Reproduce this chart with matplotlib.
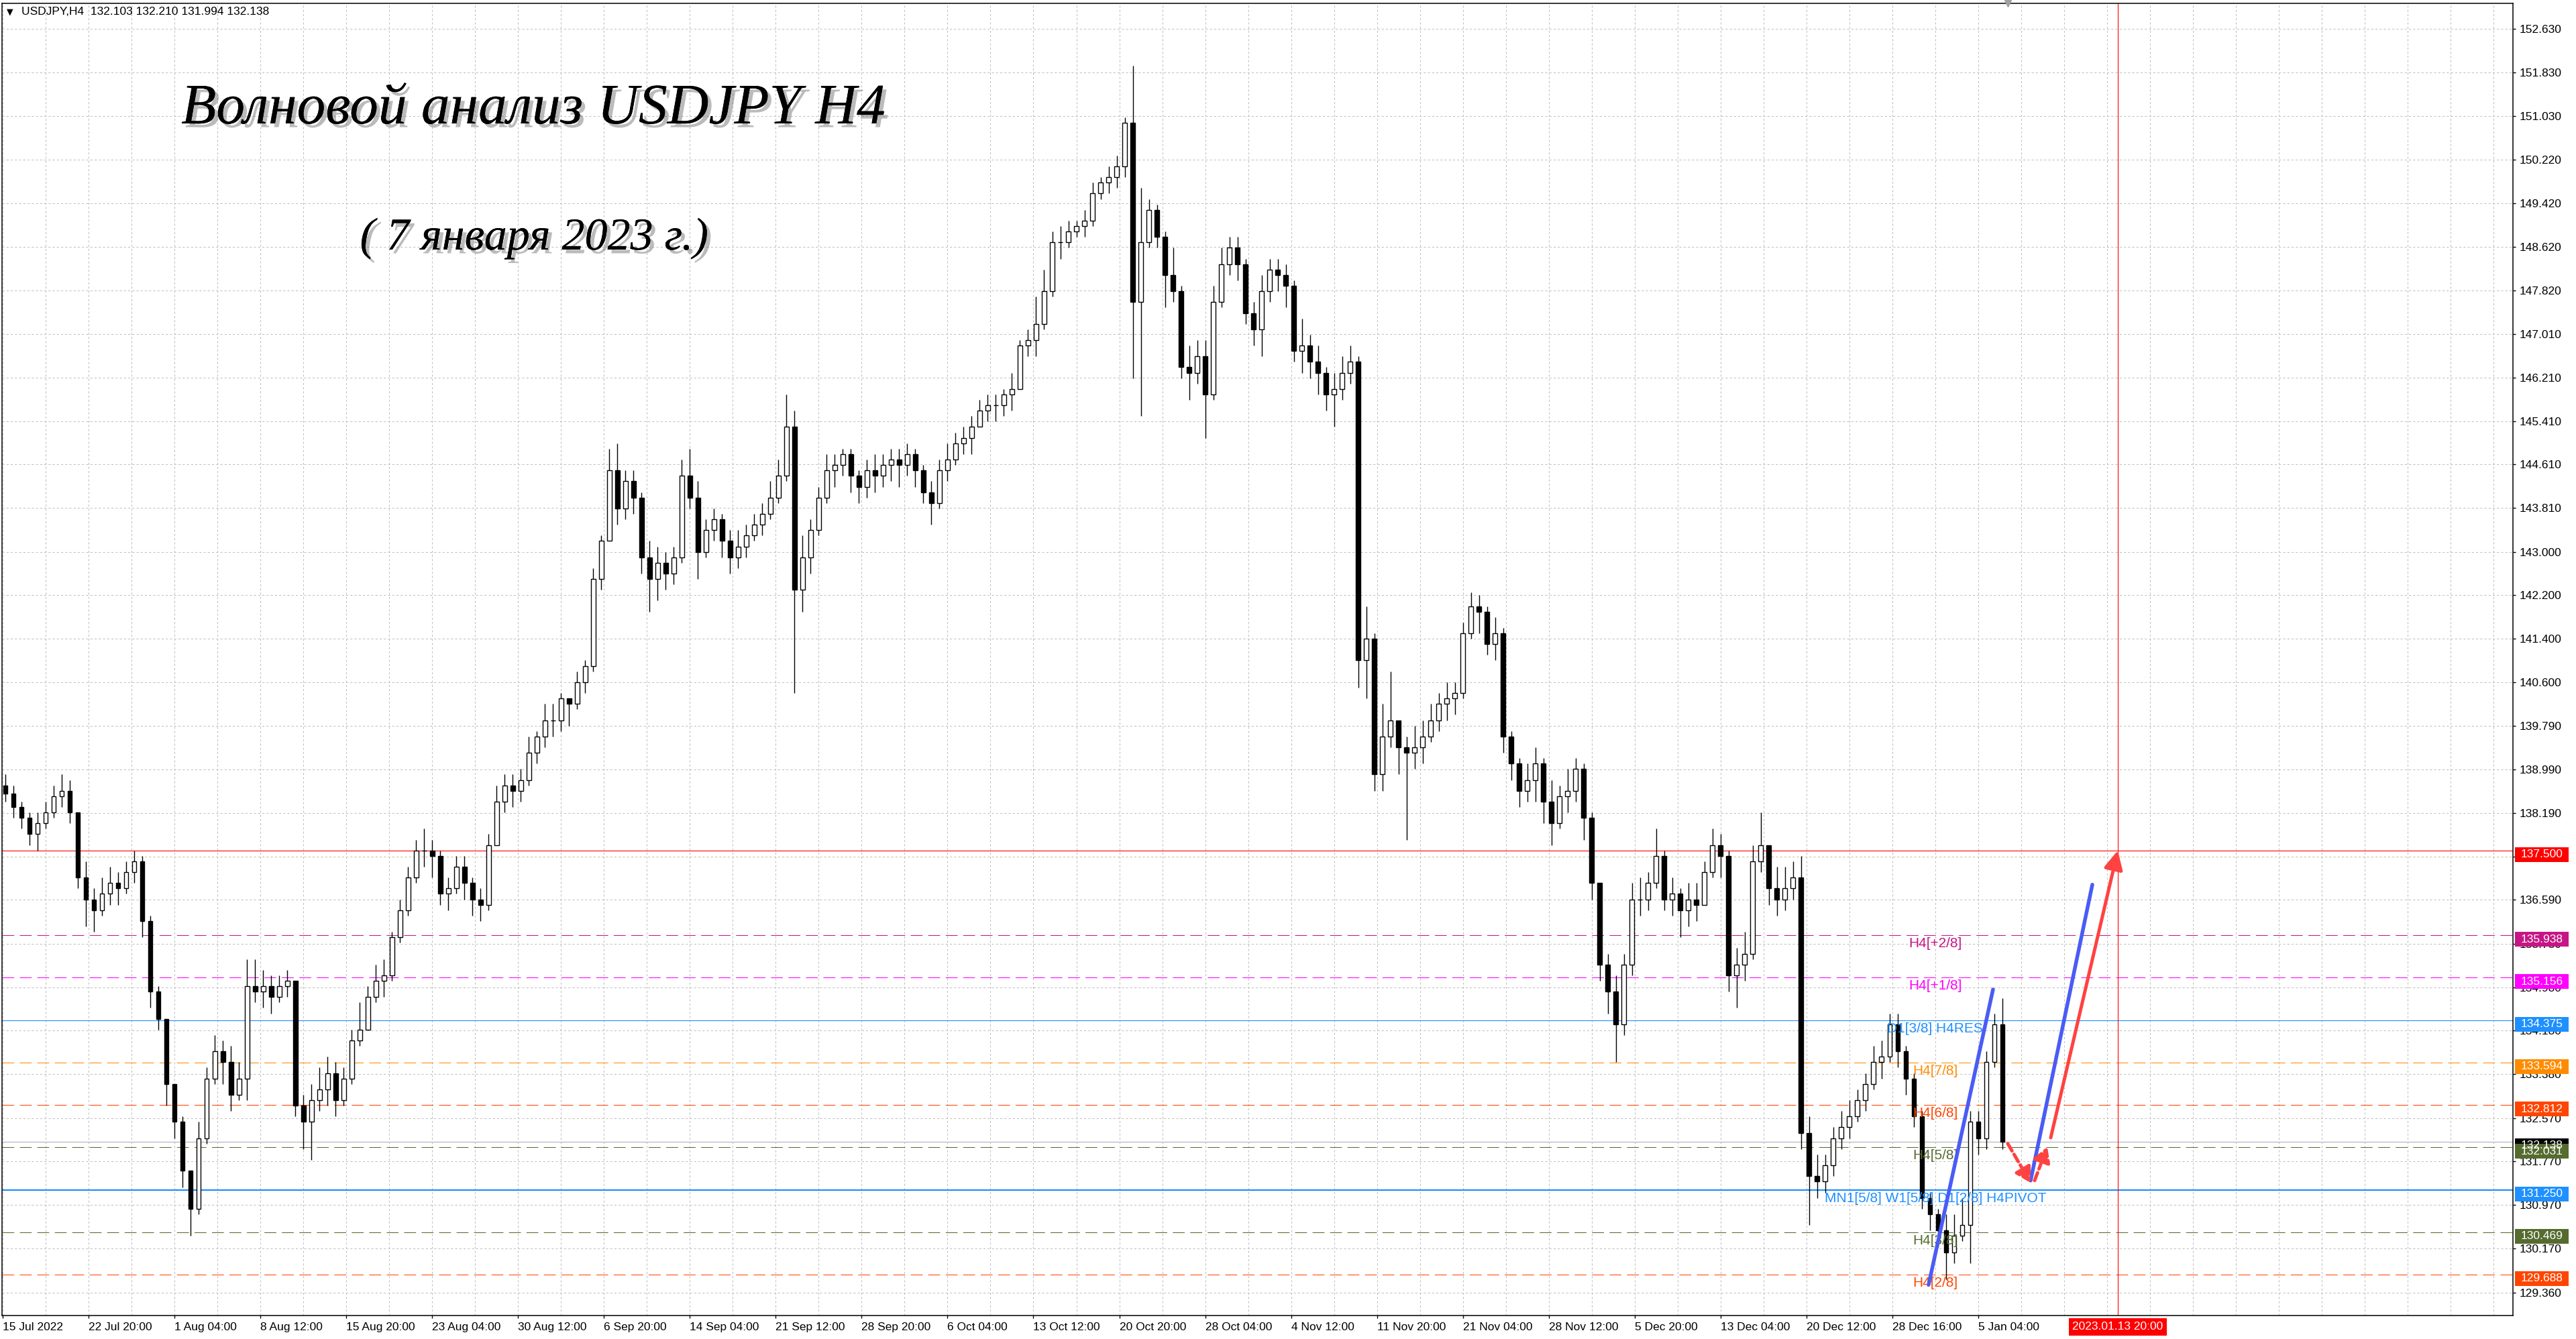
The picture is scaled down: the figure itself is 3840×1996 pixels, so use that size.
import matplotlib
matplotlib.use('Agg')
import matplotlib.pyplot as plt
import matplotlib.patheffects as pe
import matplotlib.transforms as mtransforms
from matplotlib.patches import Rectangle
import numpy as np

# USDJPY H4 chart, drawn as 12-hour candles (3 H4 bars per candle)
first_open = 138.70
close = [138.55, 138.3, 138.1, 137.8, 138.0, 138.2, 138.5, 138.6, 138.2, 137.0,
         136.6, 136.4, 136.7, 136.9, 136.8, 137.1, 137.3, 136.2, 134.9, 134.4,
         133.2, 132.5, 131.6, 130.9, 132.2, 133.3, 133.8, 133.6, 133.0, 133.3,
         135.0, 134.9, 135.0, 134.8, 135.0, 135.1, 132.8, 132.5, 132.9, 133.1,
         133.4, 132.9, 133.3, 134.0, 134.2, 134.8, 135.1, 135.2, 135.9, 136.4,
         137.0, 137.5, 137.5, 137.4, 136.7, 136.8, 137.2, 136.9, 136.6, 136.5,
         137.6, 138.4, 138.7, 138.6, 138.8, 139.3, 139.6, 139.9, 139.9, 140.3,
         140.2, 140.6, 140.9, 142.5, 143.2, 144.5, 143.8, 144.3, 144.0, 142.9,
         142.5, 142.8, 142.6, 142.9, 144.4, 144.0, 143.0, 143.4, 143.6, 143.2,
         142.9, 143.1, 143.3, 143.5, 143.7, 144.0, 144.4, 145.3, 142.3, 142.9,
         143.4, 144.0, 144.5, 144.6, 144.8, 144.4, 144.2, 144.5, 144.4, 144.6,
         144.7, 144.6, 144.8, 144.5, 144.1, 143.9, 144.5, 144.7, 145.0, 145.1,
         145.3, 145.6, 145.7, 145.7, 145.9, 146.0, 146.8, 146.9, 147.2, 147.8,
         148.7, 148.7, 148.9, 149.0, 149.1, 149.6, 149.8, 149.9, 150.1, 150.9,
         147.6, 148.7, 149.3, 148.8, 148.1, 147.8, 146.4, 146.3, 146.6, 145.9,
         147.6, 148.3, 148.6, 148.3, 147.4, 147.1, 147.8, 148.2, 148.1, 147.9,
         146.7, 146.8, 146.5, 146.3, 145.9, 146.0, 146.3, 146.5, 141.0, 141.4,
         138.9, 139.6, 139.9, 139.4, 139.3, 139.4, 139.6, 139.9, 140.2, 140.3,
         140.4, 141.5, 142.0, 141.9, 141.3, 141.5, 139.6, 139.1, 138.6, 138.8,
         139.1, 138.4, 138.0, 138.5, 138.6, 139.0, 138.1, 136.9, 135.4, 134.9,
         134.3, 135.4, 136.6, 136.6, 136.9, 137.4, 136.6, 136.7, 136.4, 136.6,
         136.5, 137.1, 137.6, 137.4, 135.2, 135.4, 135.6, 137.3, 137.6, 136.8,
         136.6, 136.8, 137.0, 132.3, 131.5, 131.4, 131.7, 132.2, 132.4, 132.6,
         132.9, 133.2, 133.6, 133.7, 134.3, 133.8, 133.3, 132.6, 131.1, 130.8,
         130.5, 130.1, 130.4, 130.6, 132.5, 132.2, 133.6, 134.3, 132.14]
high = [138.9, 138.7, 138.4, 138.2, 138.2, 138.4, 138.7, 138.9, 138.8, 138.2,
        137.3, 136.8, 137.0, 137.2, 137.1, 137.3, 137.5, 137.4, 136.3, 135.0,
        134.4, 133.2, 132.6, 131.6, 132.5, 133.5, 134.1, 134.0, 133.9, 133.6,
        135.5, 135.5, 135.3, 135.2, 135.2, 135.3, 135.1, 133.0, 133.2, 133.5,
        133.7, 133.6, 133.5, 134.2, 134.7, 135.0, 135.4, 135.5, 136.0, 136.6,
        137.2, 137.7, 137.9, 137.7, 137.5, 137.0, 137.4, 137.4, 137.0, 136.8,
        137.8, 138.7, 138.9, 138.9, 139.0, 139.6, 139.7, 140.2, 140.2, 140.4,
        140.3, 140.8, 141.0, 142.7, 143.3, 144.9, 145.0, 144.5, 144.5, 144.1,
        143.2, 143.1, 143.0, 143.1, 144.7, 144.9, 144.3, 143.6, 143.8, 143.7,
        143.4, 143.4, 143.5, 143.7, 143.9, 144.3, 144.7, 145.9, 145.6, 143.3,
        143.6, 144.2, 144.8, 144.8, 144.9, 144.9, 144.5, 144.7, 144.8, 144.8,
        144.9, 144.9, 145.0, 144.9, 144.6, 144.3, 144.7, 145.0, 145.2, 145.3,
        145.5, 145.8, 145.9, 145.9, 146.0, 146.3, 146.9, 147.1, 147.7, 148.2,
        148.9, 149.0, 149.1, 149.1, 149.3, 149.8, 149.9, 150.1, 150.3, 151.0,
        151.95, 149.7, 149.5, 149.4, 148.9, 148.6, 147.9, 146.8, 146.9, 146.9,
        147.9, 148.6, 148.8, 148.8, 148.4, 147.6, 148.1, 148.4, 148.4, 148.3,
        148.0, 147.3, 147.0, 146.8, 146.4, 146.3, 146.6, 146.8, 146.6, 142.0,
        141.5, 140.2, 140.8, 139.9, 139.6, 139.8, 139.9, 140.2, 140.4, 140.6,
        140.6, 141.7, 142.25, 142.2, 142.0, 141.8, 141.6, 139.7, 139.2, 139.1,
        139.4, 139.2, 138.8, 138.7, 139.0, 139.2, 139.1, 138.2, 136.9, 135.6,
        135.2, 135.6, 136.9, 137.0, 137.1, 137.9, 137.5, 137.0, 136.8, 136.9,
        136.9, 137.3, 137.9, 137.8, 137.5, 135.7, 136.0, 137.6, 138.2, 137.6,
        137.2, 137.2, 137.3, 137.4, 132.6, 131.9, 131.9, 132.4, 132.7, 132.9,
        133.1, 133.4, 133.9, 134.0, 134.5, 134.5, 133.9, 133.4, 132.7, 131.2,
        130.9, 130.8, 130.8, 131.1, 132.7, 132.7, 133.8, 134.5, 134.78]
low = [138.4, 138.1, 137.9, 137.6, 137.5, 137.9, 138.1, 138.3, 138.0, 136.8,
       136.1, 136.0, 136.3, 136.5, 136.5, 136.7, 136.9, 135.9, 134.6, 134.2,
       132.8, 132.2, 131.3, 130.4, 130.8, 132.1, 133.2, 133.2, 132.7, 132.9,
       132.9, 134.7, 134.6, 134.5, 134.7, 134.8, 132.6, 132.0, 131.8, 132.7,
       132.8, 132.6, 132.8, 133.2, 133.9, 134.2, 134.7, 134.8, 135.1, 135.8,
       136.3, 136.9, 137.2, 137.0, 136.5, 136.4, 136.7, 136.6, 136.3, 136.2,
       136.4, 137.9, 138.2, 138.3, 138.4, 138.7, 139.1, 139.4, 139.6, 139.7,
       139.8, 140.1, 140.4, 140.8, 142.3, 143.2, 143.5, 143.6, 143.7, 142.6,
       141.9, 142.1, 142.3, 142.4, 142.8, 143.8, 142.5, 142.9, 143.2, 142.9,
       142.6, 142.7, 142.9, 143.2, 143.3, 143.6, 143.9, 144.3, 140.4, 141.9,
       142.6, 143.3, 143.9, 144.2, 144.4, 144.1, 143.9, 144.0, 144.1, 144.2,
       144.3, 144.2, 144.4, 144.2, 143.9, 143.5, 143.8, 144.3, 144.6, 144.8,
       144.8, 145.3, 145.4, 145.4, 145.5, 145.6, 146.0, 146.6, 146.6, 147.1,
       147.7, 148.4, 148.6, 148.8, 148.8, 149.0, 149.5, 149.6, 149.7, 149.9,
       146.2, 145.5, 148.6, 148.6, 147.5, 147.6, 146.2, 145.8, 146.1, 145.1,
       145.8, 147.5, 148.1, 148.0, 147.2, 146.8, 146.6, 147.6, 147.8, 147.5,
       146.5, 146.3, 146.2, 145.9, 145.6, 145.3, 145.8, 146.1, 140.5, 140.3,
       138.6, 138.6, 139.4, 138.9, 137.7, 139.0, 139.1, 139.5, 139.7, 139.9,
       140.0, 140.3, 141.4, 141.5, 141.1, 141.0, 139.3, 138.8, 138.3, 138.4,
       138.4, 138.0, 137.6, 137.9, 138.2, 138.4, 137.7, 136.6, 135.1, 134.5,
       133.6, 134.1, 135.2, 136.3, 136.4, 136.8, 136.4, 136.3, 135.9, 136.1,
       136.2, 136.5, 137.0, 137.0, 134.9, 134.6, 135.1, 135.5, 137.1, 136.5,
       136.3, 136.4, 136.6, 132.0, 130.6, 131.1, 131.2, 131.5, 132.0, 132.2,
       132.5, 132.7, 133.1, 133.3, 133.6, 133.5, 133.0, 132.4, 130.9, 130.5,
       130.2, 129.6, 129.9, 130.3, 129.9, 131.9, 132.0, 133.5, 132.0]
bars_per_candle = 3

# x axis: H4 bar index, a date label every 32 bars
date_labels = ['15 Jul 2022', '22 Jul 20:00', '1 Aug 04:00', '8 Aug 12:00', '15 Aug 20:00',
               '23 Aug 04:00', '30 Aug 12:00', '6 Sep 20:00', '14 Sep 04:00', '21 Sep 12:00',
               '28 Sep 20:00', '6 Oct 04:00', '13 Oct 12:00', '20 Oct 20:00', '28 Oct 04:00',
               '4 Nov 12:00', '11 Nov 20:00', '21 Nov 04:00', '28 Nov 12:00', '5 Dec 20:00',
               '13 Dec 04:00', '20 Dec 12:00', '28 Dec 16:00', '5 Jan 04:00']
label_step = 32
grid_step = 16
target_bar = 788
target_label = '2023.01.13 20:00'

price_ticks = [152.630, 151.830, 151.030, 150.220, 149.420, 148.620, 147.820, 147.010,
               146.210, 145.410, 144.610, 143.810, 143.000, 142.200, 141.400, 140.600,
               139.790, 138.990, 138.190, 137.390, 136.590, 135.780, 134.980, 134.180,
               133.380, 132.570, 131.770, 130.970, 130.170, 129.360]

# Murrey-style levels, bid line and target
level_prices = [137.500, 135.938, 135.156, 134.375, 133.594, 132.812, 132.138, 132.031,
                131.250, 130.469, 129.688]
level_names = ['', 'H4[+2/8]', 'H4[+1/8]', 'D1[3/8] H4RES', 'H4[7/8]', 'H4[6/8]', '',
               'H4[5/8]', 'MN1[5/8] W1[5/8] D1[2/8] H4PIVOT', 'H4[3/8]', 'H4[2/8]']
level_colors = ['#FF0000', '#C71585', '#FF00FF', '#1E90FF', '#FF8C00', '#FF4500', '#000000',
                '#556B2F', '#1E90FF', '#556B2F', '#FF4500']
level_line_colors = ['#FF0000', '#C71585', '#FF00FF', '#1E90FF', '#FF8C00', '#FF4500', '#B4B4B4',
                     '#556B2F', '#1E90FF', '#556B2F', '#FF4500']
level_dashed = [False, True, True, False, True, True, False, True, False, True, True]
level_label_bar = 720

# hand-drawn forecast (bar index, price)
wave1 = [(717.5, 129.50), (741.5, 134.94)]
wave2 = [(755.5, 131.42), (778.5, 136.87)]
arrow_down = [(747.0, 132.10), (755.5, 131.38)]
arrow_up = [(757.0, 131.42), (761.7, 132.04)]
arrow_target = [(763.0, 132.21), (788.0, 137.50)]

header = 'USDJPY,H4  132.103 132.210 131.994 132.138'
title = 'Волновой анализ USDJPY H4'
subtitle = '( 7 января 2023 г.)'

W, H, DPI = 3840, 1996, 100
SANS = ['Liberation Sans', 'DejaVu Sans']
SERIF = ['Liberation Serif', 'DejaVu Serif']
BLUE = '#4A5CF5'
RED = '#FF4242'

fig = plt.figure(figsize=(W / DPI, H / DPI), dpi=DPI)
ax_l, ax_r, ax_t, ax_b = 3, 3746, 5, 1961
ax = fig.add_axes([ax_l / W, (H - ax_b) / H, (ax_r - ax_l) / W, (ax_b - ax_t) / H])
ax.set_xlim(-0.25, 935.2)
ax.set_ylim(128.934, 153.103)
ax.set_axisbelow(True)
px_per_price = (ax_b - ax_t) / (153.103 - 128.934)
px_per_axfrac = ax_r - ax_l

# grid
ax.set_xticks(np.arange(len(date_labels)) * label_step)
ax.set_xticklabels(date_labels)
ax.set_xticks(np.arange(0, 936, grid_step), minor=True)
ax.yaxis.tick_right()
ax.set_yticks(price_ticks)
ax.set_yticklabels([f'{p:.3f}' for p in price_ticks])
grid_kw = dict(color='#C0C0C0', lw=0.75, linestyle=(0, (3, 3)))
ax.grid(True, which='both', axis='x', **grid_kw)
ax.grid(True, which='major', axis='y', **grid_kw)
ax.tick_params(axis='both', which='major', length=3, width=1, color='black',
               labelsize=12.5, labelcolor='black')
ax.tick_params(axis='y', pad=4)
ax.tick_params(axis='x', pad=4)
ax.tick_params(which='minor', length=0)
for lab in ax.get_xticklabels():
    lab.set_ha('left')
    lab.set_family(SANS)
for lab in ax.get_yticklabels():
    lab.set_family(SANS)
for s in ax.spines.values():
    s.set_linewidth(1.1)
    s.set_color('black')

# levels
for p, name, c, lc, dashed in zip(level_prices, level_names, level_colors,
                                   level_line_colors, level_dashed):
    if dashed:
        ax.axhline(p, color=lc, lw=0.75, linestyle=(0, (17, 8)), zorder=2)
    else:
        lw = 1.6 if p == 131.250 else 0.8
        ax.axhline(p, color=lc, lw=lw, zorder=2)
    if name:
        tr = mtransforms.offset_copy(ax.transData, fig=fig, x=0, y=-3, units='dots')
        ax.text(level_label_bar, p, name, transform=tr, ha='center', va='top',
                color=c, fontsize=15, family=SANS, zorder=5)

# candles
close = np.array(close)
high = np.array(high)
low = np.array(low)
opens = np.r_[first_open, close[:-1]]
x = np.arange(len(close)) * bars_per_candle + 1
up = close >= opens
ax.vlines(x, low, high, color='black', lw=1.0, zorder=3)
ax.bar(x[up], (close - opens)[up], bottom=opens[up], width=1.7, color='white',
       edgecolor='black', linewidth=1.0, zorder=4)
ax.bar(x[~up], (opens - close)[~up], bottom=close[~up], width=1.7, color='black',
       edgecolor='black', linewidth=1.0, zorder=4)

# target time line
ax.axvline(target_bar, color='red', lw=0.8, zorder=2)

# forecast drawing
for seg in (wave1, wave2):
    (x0, y0), (x1, y1) = seg
    ax.plot([x0, x1], [y0, y1], color=BLUE, lw=4.0, solid_capstyle='round', zorder=7)
for seg in (arrow_down, arrow_up):
    (x0, y0), (x1, y1) = seg
    ax.annotate('', xy=(x1, y1), xytext=(x0, y0),
                arrowprops=dict(arrowstyle='-|>,head_length=0.6,head_width=0.35', lw=3.6,
                                color=RED, linestyle=(0, (2.5, 1.2)), mutation_scale=22,
                                shrinkA=0, shrinkB=0), zorder=7)
(x0, y0), (x1, y1) = arrow_target
ax.annotate('', xy=(x1, y1), xytext=(x0, y0),
            arrowprops=dict(arrowstyle='-|>,head_length=0.6,head_width=0.3', lw=3.6,
                            color=RED, mutation_scale=28, shrinkA=0, shrinkB=0,
                            capstyle='round'), zorder=7)

# price boxes on the right axis
blend = mtransforms.blended_transform_factory(ax.transAxes, ax.transData)
box_h = 22 / px_per_price
for p, c in zip(level_prices, level_colors):
    yc = p - 6 / px_per_price
    ax.add_patch(Rectangle((1 + 3 / px_per_axfrac, yc - box_h / 2), 80 / px_per_axfrac, box_h,
                           transform=blend, facecolor=c, edgecolor='none', clip_on=False,
                           zorder=8))
    ax.text(1 + 43 / px_per_axfrac, yc, f'{p:.3f}', transform=blend, ha='center',
            va='center', color='white', fontsize=12.5, family=SANS, zorder=9, clip_on=False)

# target time box on the x axis
blend_x = mtransforms.blended_transform_factory(ax.transData, ax.transAxes)
ax.text(target_bar, -17 / (ax_b - ax_t), target_label, transform=blend_x, ha='center',
        va='center', color='white', fontsize=12.5, family=SANS, zorder=9, clip_on=False,
        bbox=dict(boxstyle='square,pad=0.32', fc='red', ec='none'))

# chart shift marker
ax.plot([len(close) * bars_per_candle], [1.0], marker='v', color='#A0A0A0', ms=7,
        transform=blend_x, clip_on=False, zorder=9)

# header and titles
fig.text(10 / W, 1 - 18 / H, '▼', fontsize=9, family=['DejaVu Sans'], va='center')
fig.text(32 / W, 1 - 18 / H, header, fontsize=12.5, family=SANS, va='center')
shadow = [pe.withSimplePatchShadow(offset=(4, -4), shadow_rgbFace='#555555', alpha=0.4),
          pe.Normal()]
fig.text(795 / W, 1 - 184 / H, title, ha='center', va='baseline', fontsize=61.5,
         family=SERIF, style='italic', path_effects=shadow)
fig.text(796 / W, 1 - 372 / H, subtitle, ha='center', va='baseline', fontsize=49,
         family=SERIF, style='italic', path_effects=shadow)

fig.savefig('out.png', dpi=DPI, facecolor='white')
